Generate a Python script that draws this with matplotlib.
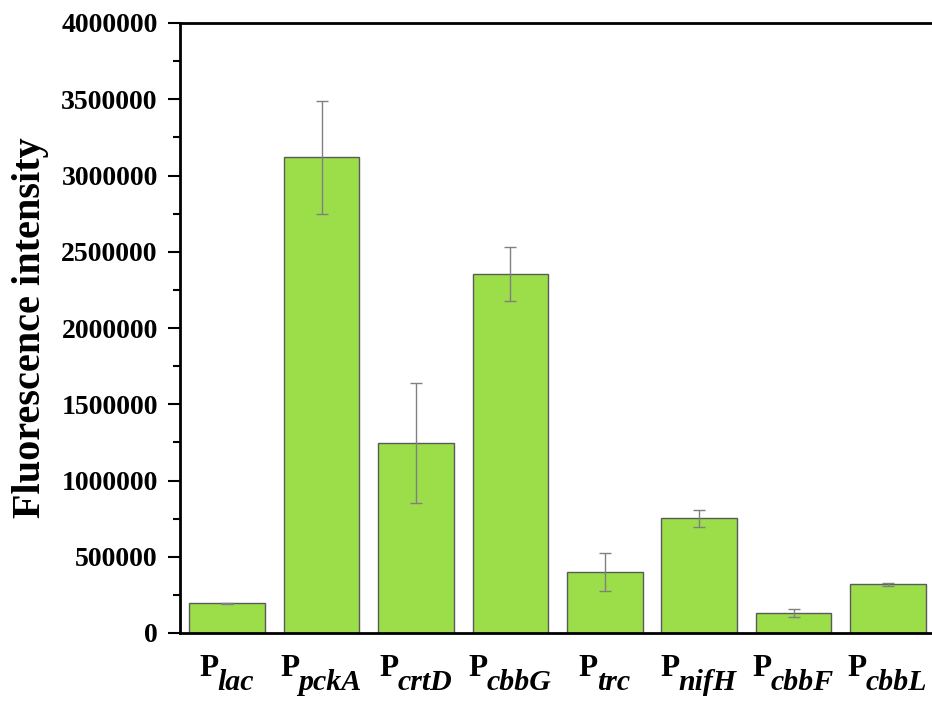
import numpy as np
import matplotlib.pyplot as plt
from matplotlib.ticker import MultipleLocator, FormatStrFormatter

plt.rcParams['font.family'] = 'Liberation Serif'
plt.rcParams['font.weight'] = 'bold'

promoters = ['lac', 'pckA', 'crtD', 'cbbG', 'trc', 'nifH', 'cbbF', 'cbbL']
intensity = [195000, 3120000, 1245000, 2355000, 400000, 752000, 131000, 321000]
err = [5000, 370000, 393000, 177000, 124000, 57000, 26000, 10000]

fig = plt.figure(figsize=(9.32, 7.04), dpi=100)
ax = fig.add_axes([180/932, 1 - 633/704, 760/932, 610/704])

x = np.arange(len(promoters))
ax.bar(x, intensity, width=0.8, color='#9BDE4A', edgecolor='#5a5a5a', linewidth=1.0)
ax.errorbar(x, intensity, yerr=err, fmt='none', ecolor='#808080',
            elinewidth=1.0, capsize=4.5, capthick=1.0)

ax.set_xlim(-0.5, 7.55)
ax.set_ylim(0, 4000000)
ax.yaxis.set_major_locator(MultipleLocator(500000))
ax.yaxis.set_minor_locator(MultipleLocator(250000))
ax.yaxis.set_major_formatter(FormatStrFormatter('%d'))

ax.set_xticks(x)
ax.set_xticklabels([])
ax.tick_params(axis='x', length=0)
ax.tick_params(axis='y', which='major', length=9, width=1.5, labelsize=20, pad=7)
ax.tick_params(axis='y', which='minor', length=5, width=1.5)

for s in ['left', 'bottom', 'top']:
    ax.spines[s].set_linewidth(2)
ax.spines['right'].set_visible(False)

ax.set_ylabel('Fluorescence intensity', fontsize=29, fontweight='bold')
ax.yaxis.set_label_coords(-0.172, 0.5)

# promoter names: bold P with a lowered bold-italic subscript
renderer = fig.canvas.get_renderer()
for xi, name in zip(x, promoters):
    tp = ax.annotate('P', xy=(xi, 28), xycoords=('data', 'figure pixels'),
                     fontsize=22.5, fontweight='bold', va='baseline', ha='left')
    ts = ax.annotate(name, xy=(xi, 14), xycoords=('data', 'figure pixels'),
                     fontsize=21.5, fontweight='bold', style='italic',
                     va='baseline', ha='left')
    wp = tp.get_window_extent(renderer).width
    ws = ts.get_window_extent(renderer).width
    left = -(wp + ws) / 2
    tp.set_anncoords('offset pixels')
    tp.xyann = (left, 0)
    ts.set_anncoords('offset pixels')
    ts.xyann = (left + wp - 1, 0)

fig.savefig('out.png', dpi=100)
